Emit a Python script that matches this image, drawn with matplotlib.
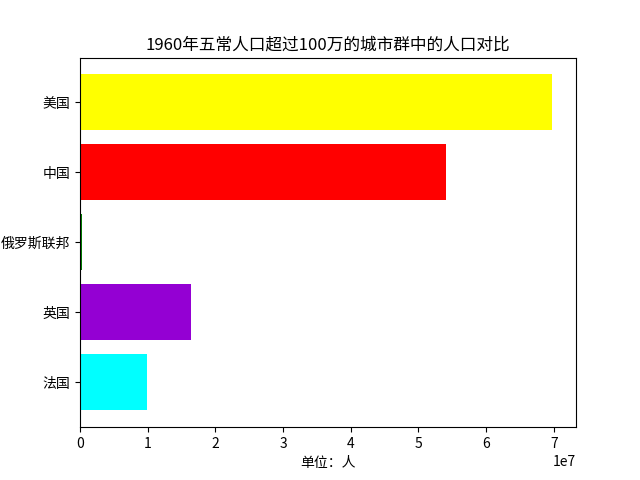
import matplotlib
matplotlib.use("Agg")
import matplotlib.pyplot as plt

plt.rcParams['font.family'] = ['Noto Sans CJK SC', 'DejaVu Sans']

countries = ['法国', '英国', '俄罗斯联邦', '中国', '美国']
population = [9.9e6, 1.64e7, 3.0e5, 5.41e7, 6.98e7]
colors = ['cyan', 'darkviolet', 'green', 'red', 'yellow']

fig, ax = plt.subplots(figsize=(6.4, 4.8), dpi=100)
ax.barh(countries, population, color=colors)
ax.set_title('1960年五常人口超过100万的城市群中的人口对比')
ax.set_xlabel('单位：人')
fig.savefig('out.png')
